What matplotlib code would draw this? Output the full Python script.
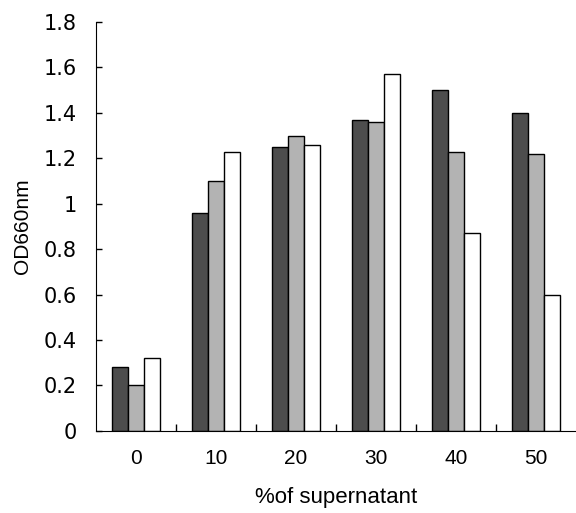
import matplotlib.pyplot as plt
import numpy as np

# % of supernatant groups
groups = ['0', '10', '20', '30', '40', '50']
dark = [0.28, 0.96, 1.25, 1.37, 1.50, 1.40]
light = [0.20, 1.10, 1.30, 1.36, 1.23, 1.22]
white = [0.32, 1.23, 1.26, 1.57, 0.87, 0.60]
yticks = [0, 0.2, 0.4, 0.6, 0.8, 1, 1.2, 1.4, 1.6, 1.8]
ytick_labels = ['0', '0.2', '0.4', '0.6', '0.8', '1', '1.2', '1.4', '1.6', '1.8']

fig = plt.figure(figsize=(5.76, 5.13), dpi=100)
ax = fig.add_axes([0.1667, 0.160, 0.833, 0.797])

x = np.arange(len(groups))
w = 0.2
ax.bar(x - w, dark, w, color='#4d4d4d', edgecolor='black', linewidth=1)
ax.bar(x, light, w, color='#b3b3b3', edgecolor='black', linewidth=1)
ax.bar(x + w, white, w, color='white', edgecolor='black', linewidth=1)

ax.set_xlim(-0.5, 5.5)
ax.set_ylim(0, 1.8)
ax.set_yticks(yticks)
ax.set_yticklabels(ytick_labels, fontsize=15, family='DejaVu Sans')
ax.set_xticks(x)
ax.set_xticklabels(groups, fontsize=15, family='Liberation Sans')
ax.set_xticks(x[:-1] + 0.5, minor=True)

ax.tick_params(axis='y', direction='in', length=4, pad=14, width=1)
ax.tick_params(axis='x', which='major', length=0, pad=13)
ax.tick_params(axis='x', which='minor', direction='in', length=5, width=1)

ax.spines['top'].set_visible(False)
ax.spines['right'].set_visible(False)

ax.set_ylabel('OD660nm', fontsize=15, family='Liberation Sans', labelpad=8)
ax.set_xlabel('%of supernatant', fontsize=16, family='Liberation Sans', labelpad=14)

fig.savefig('out.png', dpi=100)
